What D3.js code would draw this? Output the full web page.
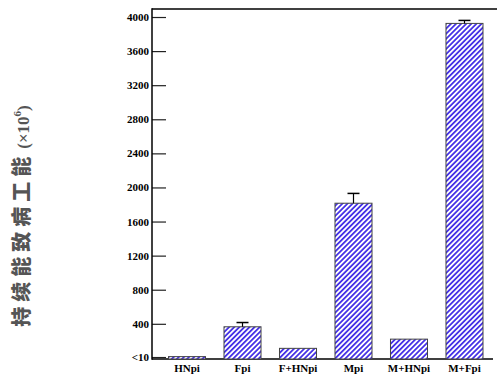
<!DOCTYPE html>
<html><head><meta charset="utf-8">
<script src="https://cdn.jsdelivr.net/npm/d3@7"></script>
<style>body{margin:0;background:#fff;}</style>
</head><body>
<script>
const categories = ["HNpi","Fpi","F+HNpi","Mpi","M+HNpi","M+Fpi"];
const values = [15, 365, 112, 1815, 220, 3925];
const errors = [0, 50, 0, 115, 0, 35];
const tickValues = [10, 400, 800, 1200, 1600, 2000, 2400, 2800, 3200, 3600, 4000];
const tickLabels = ["<10","400","800","1200","1600","2000","2400","2800","3200","3600","4000"];
const yTitle = "持续能致病工能";
const yUnit = "(×10";
const yTitleSup = "6";

const W = 498, H = 378;
const svg = d3.select("body").append("svg").attr("width", W).attr("height", H);

const defs = svg.append("defs");
const pat = defs.append("pattern").attr("id","hatch").attr("patternUnits","userSpaceOnUse")
  .attr("width",3.6).attr("height",3.6).attr("patternTransform","rotate(45)");
pat.append("rect").attr("width",3.6).attr("height",3.6).attr("fill","#fff");
pat.append("rect").attr("width",1.8).attr("height",3.6).attr("fill","#4632e6");

const y = d3.scaleLinear().domain([-13, 4094]).range([359, 9]);
const x = d3.scaleBand().domain(categories).range([159.25, 492.25]).paddingInner(0.333).paddingOuter(0.1667);

const left = 152;

svg.append("line").attr("x1",left).attr("x2",497).attr("y1",y(4094)).attr("y2",y(4094)).attr("stroke","#000").attr("stroke-width",1.5);
svg.append("line").attr("x1",left).attr("x2",493).attr("y1",y(-13)).attr("y2",y(-13)).attr("stroke","#000").attr("stroke-width",1.5);

const yAxis = d3.axisRight(y).tickValues(tickValues).tickSize(14).tickFormat((d,i)=>tickLabels[i]);
const ga = svg.append("g").attr("transform",`translate(${left},0)`).call(yAxis);
ga.select(".domain").remove();
ga.selectAll(".tick line").attr("stroke","#222").attr("stroke-width",1.2);
ga.selectAll(".tick text").attr("x",-3).attr("text-anchor","end")
  .attr("font-family","Liberation Serif").attr("font-weight","bold").attr("font-size",11).attr("fill","#000");
svg.append("line").attr("x1",left).attr("x2",left).attr("y1",y(4094)-0.75).attr("y2",y(-13)+0.75).attr("stroke","#000").attr("stroke-width",1.5);

svg.selectAll("rect.bar").data(categories).enter().append("rect").attr("class","bar")
  .attr("x",d=>x(d)).attr("width",x.bandwidth())
  .attr("y",(d,i)=>y(values[i])).attr("height",(d,i)=>y(-13)-y(values[i]))
  .attr("fill","url(#hatch)").attr("stroke","#444").attr("stroke-width",1);

categories.forEach((c,i)=>{
  if(!errors[i]) return;
  const cx = x(c)+x.bandwidth()/2;
  svg.append("line").attr("x1",cx).attr("x2",cx).attr("y1",y(values[i])).attr("y2",y(values[i]+errors[i])).attr("stroke","#000").attr("stroke-width",1.2);
  svg.append("line").attr("x1",cx-6).attr("x2",cx+6).attr("y1",y(values[i]+errors[i])).attr("y2",y(values[i]+errors[i])).attr("stroke","#000").attr("stroke-width",1.5);
});

const xAxis = d3.axisBottom(x).tickSize(0).tickPadding(5);
const gx = svg.append("g").attr("transform",`translate(0,${y(-13)})`).call(xAxis);
gx.select(".domain").remove();
gx.selectAll("text").attr("font-family","Liberation Serif").attr("font-weight","bold").attr("font-size",11).attr("fill","#000");

const t = svg.append("text").attr("transform","translate(29,216) rotate(-90)")
  .attr("text-anchor","middle").attr("font-family","Noto Sans CJK SC").attr("font-weight","900")
  .attr("font-size",20).attr("fill","#555");
t.append("tspan").attr("letter-spacing",5).text(yTitle);
t.append("tspan").attr("font-family","Liberation Serif").attr("font-weight","bold").attr("font-size",17).attr("dx",3).text(yUnit);
t.append("tspan").attr("dy",-8).attr("font-family","Liberation Serif").attr("font-weight","bold").attr("font-size",11).text(yTitleSup);
t.append("tspan").attr("dy",8).attr("font-family","Liberation Serif").attr("font-weight","bold").attr("font-size",17).text(")");
</script>
</body></html>
